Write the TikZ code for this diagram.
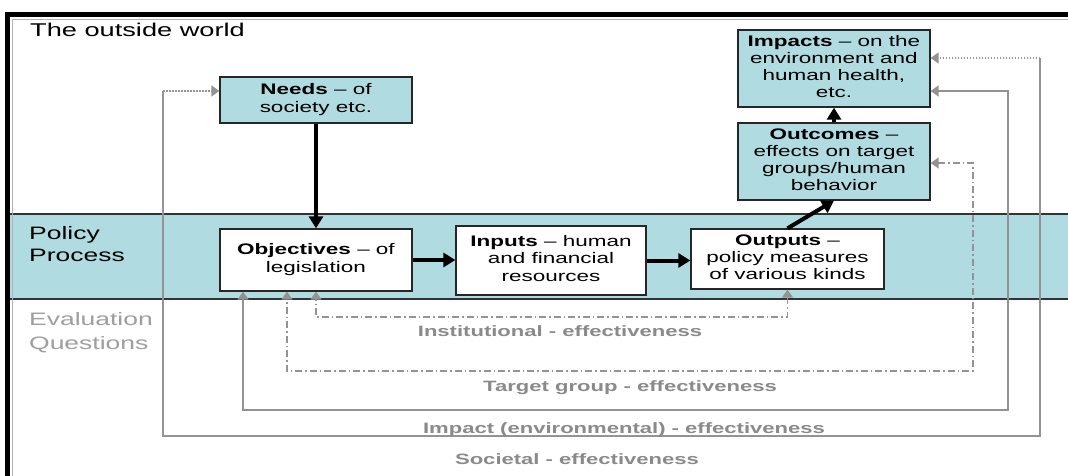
\documentclass[tikz,border=0pt]{standalone}
\usepackage{fontspec}
\setmainfont{Liberation Sans}
\usetikzlibrary{arrows.meta,calc}
\definecolor{bandblue}{HTML}{B0DBE0}
\definecolor{loopgray}{HTML}{939393}
\definecolor{labelgray}{HTML}{8A8A8A}
\definecolor{evalgray}{HTML}{9E9E9E}
% Arial-like text, widened horizontally
\newcommand{\wide}[1]{\scalebox{1.47}[1]{#1}}
\newcommand{\boxtext}[1]{\scalebox{1.47}[1]{\begin{tabular}{@{}c@{}}#1\end{tabular}}}
\newcommand{\sidetext}[1]{\scalebox{1.47}[1]{\begin{tabular}[b]{@{}l@{}}#1\end{tabular}}}
\begin{document}
\begin{tikzpicture}[x=1pt,y=-1pt,
  bluebox/.style={draw=black!85, line width=1.3pt, fill=bandblue, inner sep=0pt,
    font=\fontsize{15.3}{17.2}\selectfont},
  whitebox/.style={bluebox, fill=white},
  flow/.style={line width=4pt, -{Triangle[length=12pt,width=14pt]}},
  gtip/.tip={Triangle[length=8pt,width=11pt]},
  solidloop/.style={draw=loopgray, line width=1.6pt},
  dotloop/.style={draw=loopgray, line width=1.6pt, dash pattern=on 1.5pt off 1.5pt},
  dashdotloop/.style={draw=loopgray, line width=1.4pt, dash pattern=on 7pt off 3pt on 1.5pt off 3pt},
  lbl/.style={text=labelgray, inner sep=0pt, font=\fontsize{15}{17}\selectfont\bfseries}]

\useasboundingbox (0,0) rectangle (1068,476);
\fill[white] (0,0) rectangle (1068,476);

% policy process band
\fill[bandblue] (10,214) rectangle (1068,299);
\draw[line width=1.4pt, black!80] (10,214) -- (1068,214) (10,299) -- (1068,299);

% frame
\draw[line width=0.6pt, black!30] (12.5,476) -- (12.5,19) -- (1068,19);
\draw[line width=5pt] (7.5,476) -- (7.5,14.5) -- (1068,14.5);

% row captions
\node[anchor=base west, inner sep=0pt, font=\fontsize{18.5}{22}\selectfont] (title) at (30,37) {\wide{The outside world}};
\node[anchor=base west, inner sep=0pt, font=\fontsize{18}{21.5}\selectfont] (policy) at (29,261) {\sidetext{Policy\\Process}};
\node[anchor=base west, inner sep=0pt, text=evalgray, font=\fontsize{18}{24}\selectfont] (evalq) at (29,349) {\sidetext{Evaluation\\Questions}};

% boxes
\node[bluebox, minimum width=192pt, minimum height=46pt] (needs) at (316,100)
  {\boxtext{\textbf{Needs} – of\\society etc.}};
\node[whitebox, minimum width=192pt, minimum height=62pt] (obj) at (316,260)
  {\boxtext{\textbf{Objectives} – of\\legislation}};
\node[whitebox, minimum width=190pt, minimum height=69pt] (inputs) at (551,260.5)
  {\boxtext{\textbf{Inputs} – human\\and financial\\resources}};
\node[whitebox, minimum width=193pt, minimum height=60pt] (outputs) at (787.5,259)
  {\boxtext{\textbf{Outputs} –\\policy measures\\of various kinds}};
\node[bluebox, minimum width=192pt, minimum height=77pt] (outcomes) at (834,161.5)
  {\boxtext{\textbf{Outcomes} –\\effects on target\\groups/human\\behavior}};
\node[bluebox, minimum width=192pt, minimum height=77pt] (impacts) at (834,68.5)
  {\boxtext{\textbf{Impacts} – on the\\environment and\\human health,\\etc.}};

% main flow
\draw[flow] (needs.south) -- (obj.north);
\draw[flow] (obj.east) -- (obj.east -| inputs.west);
\draw[flow] (inputs.east) -- (inputs.east -| outputs.west);
\draw[flow] (outputs.north) -- (outcomes.south);
\draw[flow] (outcomes.north) -- (impacts.south);

% evaluation loops
\draw[dashdotloop, gtip-gtip] (outputs.south) -- (outputs.south |- 0,317)
  -- (obj.south |- 0,317) -- (obj.south);
\draw[dashdotloop, gtip-gtip] (outcomes.east |- 0,163) -- (973,163) -- (973,371)
  -- (287,371) -- (287,0 |- obj.south);
\draw[solidloop, gtip-gtip] (impacts.east |- 0,91) -- (1008,91) -- (1008,410)
  -- (243,410) -- (243,0 |- obj.south);
\coordinate (sr) at (1040,58);
\coordinate (sl) at (163,91);
\draw[solidloop] (sr) -- (1040,436) -- (163,436) -- (sl);
\draw[dotloop, -gtip] (sr) -- (impacts.east |- sr);
\draw[dotloop, -gtip] (sl) -- (needs.west |- sl);

% loop labels
\node[lbl, anchor=base] (linst) at (560,336) {\wide{Institutional - effectiveness}};
\node[lbl, anchor=base] (ltgt) at (630,391) {\wide{Target group - effectiveness}};
\node[lbl, anchor=base] (limp) at (624,433) {\wide{Impact (environmental) - effectiveness}};
\node[lbl, anchor=base] (lsoc) at (577,464) {\wide{Societal - effectiveness}};
\end{tikzpicture}
\end{document}
